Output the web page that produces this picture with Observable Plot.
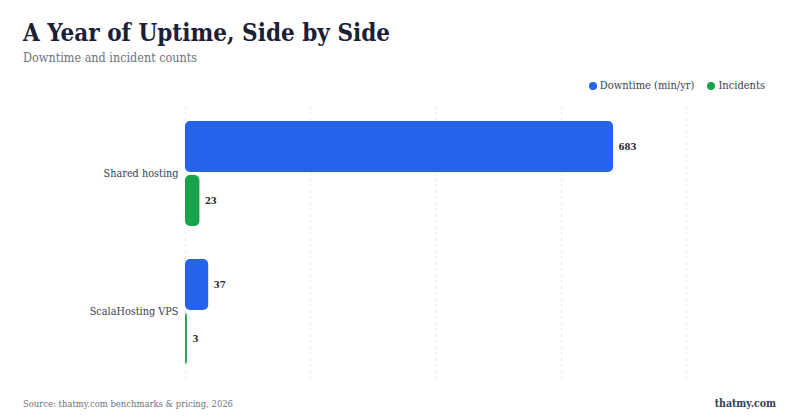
<!DOCTYPE html>
<html>
<head>
<meta charset="utf-8">
<script src="https://cdn.jsdelivr.net/npm/d3@7"></script>
<script src="https://cdn.jsdelivr.net/npm/@observablehq/plot@0.6"></script>
<style>
  html, body { margin: 0; padding: 0; background: #fff; }
  body { width: 800px; height: 420px; position: relative; overflow: hidden; font-family: Georgia, "DejaVu Serif Condensed", "DejaVu Serif", serif; }
  #title { position: absolute; left: 23px; top: 18px; font-size: 24px; font-weight: bold; color: #1a2036; }
  #subtitle { position: absolute; left: 23px; top: 50px; font-size: 12.5px; color: #6b7280; }
  #legend { position: absolute; right: 35px; top: 79px; font-size: 11px; color: #374151; display: flex; gap: 13px; }
  #legend span.item { display: flex; align-items: center; gap: 3px; }
  #legend span.dot { width: 8px; height: 8px; border-radius: 50%; display: inline-block; }
  #grid, #chart { position: absolute; left: 0; top: 100px; }
  #source { position: absolute; left: 23px; top: 398px; font-size: 9.4px; color: #6b7280; }
  #brand { position: absolute; right: 24px; top: 397px; font-size: 10.5px; font-weight: bold; color: #374151; }
</style>
</head>
<body>
<div id="title">A Year of Uptime, Side by Side</div>
<div id="subtitle">Downtime and incident counts</div>
<div id="legend"></div>
<div id="grid"></div>
<div id="chart"></div>
<div id="source">Source: thatmy.com benchmarks &amp; pricing, 2026</div>
<div id="brand">thatmy.com</div>
<script>
const groups = ["Shared hosting", "ScalaHosting VPS"];
const series = ["Downtime (min/yr)", "Incidents"];
const downtime = [683, 37];
const incidents = [23, 3];
const colors = ["#2563eb", "#16a34a"];
const xTicks = [0, 200, 400, 600, 800];

const data = [];
groups.forEach((g, i) => {
  data.push({group: g, series: series[0], value: downtime[i]});
  data.push({group: g, series: series[1], value: incidents[i]});
});

const legend = document.getElementById("legend");
series.forEach((s, i) => {
  const item = document.createElement("span");
  item.className = "item";
  item.innerHTML = `<span class="dot" style="background:${colors[i]}"></span><span>${s}</span>`;
  legend.appendChild(item);
});

const font = 'Georgia, "DejaVu Serif Condensed", "DejaVu Serif", serif';
const common = {
  width: 800,
  height: 290,
  marginTop: 6,
  marginBottom: 12,
  marginLeft: 185,
  marginRight: 51,
  x: {domain: [0, 900], axis: null}
};

// grid underlay spanning the full frame
const grid = Plot.plot({
  ...common,
  style: {background: "transparent"},
  marks: [
    Plot.ruleX(xTicks, {x: d => d, stroke: "#e8eaee", strokeDasharray: "3,3", strokeWidth: 1})
  ]
});
document.getElementById("grid").appendChild(grid);

const chart = Plot.plot({
  ...common,
  style: {fontFamily: font, background: "transparent"},
  y: {domain: series, axis: null, paddingInner: 0.06, paddingOuter: 0},
  fy: {domain: groups, paddingInner: 0.235, paddingOuter: 0.1, label: null, axis: null},
  color: {domain: series, range: colors},
  marks: [
    Plot.axisFy({anchor: "left", tickSize: 0, tickPadding: 7, fontSize: 10.8, fill: "#374151", label: null}),
    Plot.barX(data, {fy: "group", y: "series", x: "value", fill: "series", rx: 5}),
    Plot.text(data, {fy: "group", y: "series", x: "value", text: d => String(d.value), dx: 5, textAnchor: "start", fontWeight: "bold", fontSize: 9.5, fill: "#1f2937"})
  ]
});
document.getElementById("chart").appendChild(chart);
</script>
</body>
</html>
